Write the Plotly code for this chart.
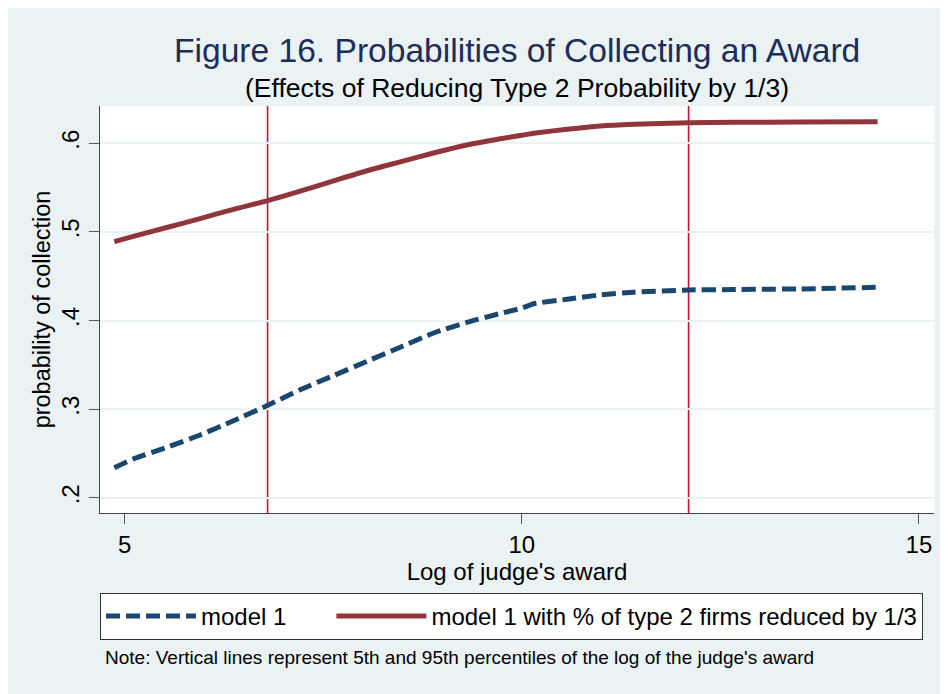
import plotly.graph_objects as go

# ---- data ----
log_award = [4.87, 5.11, 5.53, 5.95, 6.37, 6.79, 7.21, 7.63, 8.05, 8.47, 8.89, 9.31,
             9.73, 10.0, 10.15, 10.57, 10.99, 11.41, 12.10, 12.66, 13.50, 14.48]
model1 = [0.234, 0.244, 0.257, 0.271, 0.287, 0.304, 0.322, 0.338, 0.354, 0.370, 0.386, 0.398,
          0.408, 0.414, 0.419, 0.424, 0.429, 0.432, 0.4345, 0.435, 0.4357, 0.4375]
model1_reduced = [0.489, 0.495, 0.505, 0.515, 0.5255, 0.535, 0.546, 0.5575, 0.569, 0.579, 0.589, 0.598,
                  0.605, 0.609, 0.6113, 0.6158, 0.6195, 0.6214, 0.6232, 0.6236, 0.624, 0.6243]
percentile_lines = [6.80, 12.10]  # 5th and 95th percentiles of log award

x_ticks = [5, 10, 15]
y_ticks = [0.2, 0.3, 0.4, 0.5, 0.6]
y_tick_labels = [".2", ".3", ".4", ".5", ".6"]

series_names = ["model 1", "model 1 with % of type 2 firms reduced by 1/3"]

BG = "#EAF2F3"
FONT = "Liberation Sans"
NBSP = "\u00a0"

fig = go.Figure()
fig.add_trace(go.Scatter(x=log_award, y=model1, mode="lines", name=series_names[0] + NBSP * 6,
                         line=dict(color="#1A476F", width=5, dash="14px,6px",
                                   shape="spline", smoothing=0.5)))
fig.add_trace(go.Scatter(x=log_award, y=model1_reduced, mode="lines", name=series_names[1],
                         line=dict(color="#90353B", width=5, shape="spline", smoothing=0.5)))

for xv in percentile_lines:
    fig.add_shape(type="line", xref="x", yref="paper", x0=xv, x1=xv, y0=0, y1=1,
                  line=dict(color="#C8102E", width=1.6), layer="below")

# the page body has an 8px margin, so the figure is 8px smaller and margins shifted
W, H = 940, 686
ML, MR, MT, MB = 92, 14, 98, 180.5
PH = H - MT - MB  # plot height in px

fig.update_layout(
    width=W, height=H,
    paper_bgcolor=BG, plot_bgcolor="white",
    margin=dict(l=ML, r=MR, t=MT, b=MB, autoexpand=False),
    font=dict(family=FONT, color="black", size=22),
    showlegend=True,
    legend=dict(orientation="h", x=0, xanchor="left", y=-(594 - 514) / PH, yanchor="top",
                bgcolor="white", bordercolor="#333333", borderwidth=1,
                font=dict(size=24, family=FONT), itemwidth=90,
                tracegroupgap=0),
    xaxis=dict(range=[4.69, 15.19], tickvals=x_ticks, ticks="outside", ticklen=10,
               tickcolor="#555555", showgrid=False, zeroline=False,
               showline=True, linecolor="#444444", linewidth=1,
               tickfont=dict(size=24),
               title=dict(text="Log of judge's award", font=dict(size=24), standoff=0)),
    yaxis=dict(range=[0.183, 0.642], tickvals=y_ticks, ticktext=y_tick_labels,
               tickangle=-90, ticks="outside", ticklen=10, tickcolor="#555555",
               showgrid=True, gridcolor=BG, gridwidth=2, zeroline=False,
               showline=True, linecolor="#444444", linewidth=1,
               tickfont=dict(size=24),
               title=dict(text="probability of collection", font=dict(size=23.5), standoff=0)),
    annotations=[
        dict(text="Figure 16. Probabilities of Collecting an Award", xref="paper", yref="paper",
             x=0.5, y=1 + (106 - 50) / PH, xanchor="center", yanchor="middle", showarrow=False,
             font=dict(size=33.6, color="#1C2D5A", family=FONT)),
        dict(text="(Effects of Reducing Type 2 Probability by 1/3)", xref="paper", yref="paper",
             x=0.5, y=1 + (106 - 88) / PH, xanchor="center", yanchor="middle", showarrow=False,
             font=dict(size=26.5, color="black", family=FONT)),
        dict(text="Note: Vertical lines represent 5th and 95th percentiles of the log of the judge's award",
             xref="paper", yref="paper", x=0.004, y=-(659 - 514) / PH, xanchor="left",
             yanchor="middle", showarrow=False, font=dict(size=19, color="black", family=FONT)),
    ],
)

fig.write_html("out.html")
